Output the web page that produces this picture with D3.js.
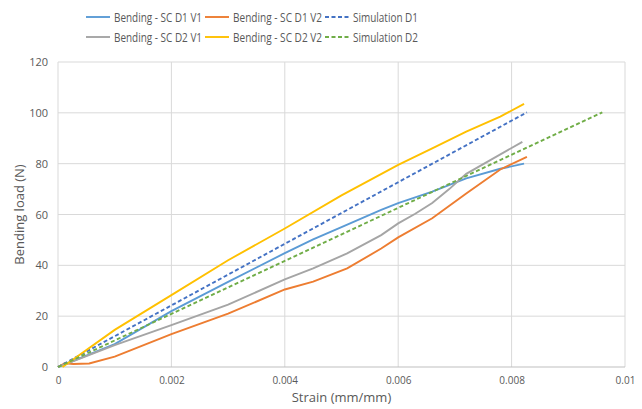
<!DOCTYPE html>
<html>
<head>
<meta charset="utf-8">
<script src="https://cdn.jsdelivr.net/npm/d3@7"></script>
<style>
  body { margin: 0; background: #fff; }
  text { font-family: "Open Sans", "Liberation Sans", sans-serif; fill: #595959; }
</style>
</head>
<body>
<div id="chart"></div>
<script>
const width = 642;
const height = 409;

// strain (mm/mm) and load (N)
const d1v1Strain = [0, 0.0005, 0.001, 0.002, 0.003, 0.004, 0.0045, 0.005, 0.0057, 0.006, 0.0066, 0.0072, 0.0078, 0.00822];
const d1v1Load   = [0, 4.5, 9, 22, 33.5, 44.8, 50.2, 55, 61.8, 64.5, 69, 74.2, 78, 80];

const d1v2Strain = [0, 0.00012, 0.00027, 0.00055, 0.001, 0.002, 0.003, 0.004, 0.0045, 0.0051, 0.0057, 0.006, 0.0066, 0.0072, 0.0078, 0.00827];
const d1v2Load   = [0, 1.5, 1.2, 1.4, 4.1, 12.9, 21, 30.5, 33.6, 38.8, 46.6, 51, 58.5, 68.3, 77.7, 82.7];

const d2v1Strain = [0, 0.001, 0.002, 0.003, 0.004, 0.0045, 0.0051, 0.0057, 0.006, 0.0063, 0.0066, 0.0069, 0.0072, 0.00819];
const d2v1Load   = [0, 8.6, 16.5, 24.5, 34.5, 38.8, 44.7, 51.9, 56.5, 60.3, 64.5, 70, 76, 88.6];

const d2v2Strain = [0.00008, 0.001, 0.002, 0.003, 0.004, 0.005, 0.006, 0.0066, 0.0072, 0.0078, 0.00822];
const d2v2Load   = [0, 14.6, 28.3, 42, 54.5, 67.5, 79.5, 86, 92.6, 98.5, 103.5];

const simD1Strain = [0, 0.00827];
const simD1Load   = [0, 100.2];

const simD2Strain = [0, 0.0096];
const simD2Load   = [0, 100.2];

const xTicks = [0, 0.002, 0.004, 0.006, 0.008, 0.01];
const xTickLabels = ["0", "0.002", "0.004", "0.006", "0.008", "0.01"];
const yTicks = [0, 20, 40, 60, 80, 100, 120];

const series = [
  { name: "Bending - SC D1 V1", xs: d1v1Strain, ys: d1v1Load, color: "#5B9BD5", dash: null },
  { name: "Bending - SC D1 V2", xs: d1v2Strain, ys: d1v2Load, color: "#ED7D31", dash: null },
  { name: "Simulation D1",      xs: simD1Strain, ys: simD1Load, color: "#4472C4", dash: "4,2.5" },
  { name: "Bending - SC D2 V1", xs: d2v1Strain, ys: d2v1Load, color: "#A5A5A5", dash: null },
  { name: "Bending - SC D2 V2", xs: d2v2Strain, ys: d2v2Load, color: "#FFC000", dash: null },
  { name: "Simulation D2",      xs: simD2Strain, ys: simD2Load, color: "#70AD47", dash: "4,2.5" }
];

const margin = { left: 58, right: 17, top: 62, bottom: 42 };

const svg = d3.select("#chart").append("svg")
  .attr("width", width)
  .attr("height", height);

const x = d3.scaleLinear().domain([0, 0.01]).range([margin.left, width - margin.right]);
const y = d3.scaleLinear().domain([0, 120]).range([height - margin.bottom, margin.top]);

// gridlines
const grid = svg.append("g").classed("grid", true);
grid.selectAll(".vgrid")
  .data(xTicks)
  .enter().append("line")
  .attr("x1", d => x(d)).attr("x2", d => x(d))
  .attr("y1", y(0)).attr("y2", y(120))
  .attr("stroke", "#D9D9D9").attr("stroke-width", 1);
grid.selectAll(".hgrid")
  .data(yTicks)
  .enter().append("line")
  .attr("x1", x(0)).attr("x2", x(0.01))
  .attr("y1", d => y(d)).attr("y2", d => y(d))
  .attr("stroke", d => d === 0 ? "#BFBFBF" : "#D9D9D9").attr("stroke-width", 1);

// axes (labels only, Excel style)
const xAxis = svg.append("g")
  .attr("transform", `translate(0,${y(0)})`)
  .call(d3.axisBottom(x).tickValues(xTicks).tickFormat((d, i) => xTickLabels[i]).tickSize(0).tickPadding(10));
xAxis.select(".domain").remove();
xAxis.selectAll("text").style("font-size", "10px").attr("fill", "#595959");

const yAxis = svg.append("g")
  .attr("transform", `translate(${x(0)},0)`)
  .call(d3.axisLeft(y).tickValues(yTicks).tickSize(0).tickPadding(10));
yAxis.select(".domain").remove();
yAxis.selectAll("text").style("font-size", "11px").attr("fill", "#595959");

// axis titles
svg.append("text")
  .attr("x", (x(0) + x(0.01)) / 2)
  .attr("y", 402)
  .attr("text-anchor", "middle")
  .style("font-size", "13px")
  .text("Strain (mm/mm)");

svg.append("text")
  .attr("transform", `translate(24,${(y(0) + y(120)) / 2}) rotate(-90)`)
  .attr("text-anchor", "middle")
  .style("font-size", "13px")
  .text("Bending load (N)");

// lines
const line = d3.line()
  .x(d => x(d[0]))
  .y(d => y(d[1]));

svg.append("g").classed("lines", true)
  .selectAll("path")
  .data(series)
  .enter().append("path")
  .attr("d", s => line(s.xs.map((v, i) => [v, s.ys[i]])))
  .attr("fill", "none")
  .attr("stroke", s => s.color)
  .attr("stroke-width", 1.9)
  .attr("stroke-dasharray", s => s.dash);

// legend, two rows of three; text squeezed to the narrow Calibri widths
const legend = svg.append("g").classed("legend", true);
const legendCols = [86, 205, 325];
const legendTextWidths = [88, 89, 65];
series.forEach((s, i) => {
  const col = i % 3, row = Math.floor(i / 3);
  const lx = legendCols[col];
  const ly = 17 + row * 20;
  legend.append("line")
    .attr("x1", lx).attr("x2", lx + 24)
    .attr("y1", ly).attr("y2", ly)
    .attr("stroke", s.color)
    .attr("stroke-width", 1.9)
    .attr("stroke-dasharray", s.dash);
  legend.append("text")
    .attr("x", lx + 28)
    .attr("y", ly)
    .attr("dy", "0.35em")
    .attr("textLength", legendTextWidths[col])
    .attr("lengthAdjust", "spacingAndGlyphs")
    .style("font-size", "13.5px")
    .text(s.name);
});
</script>
</body>
</html>
